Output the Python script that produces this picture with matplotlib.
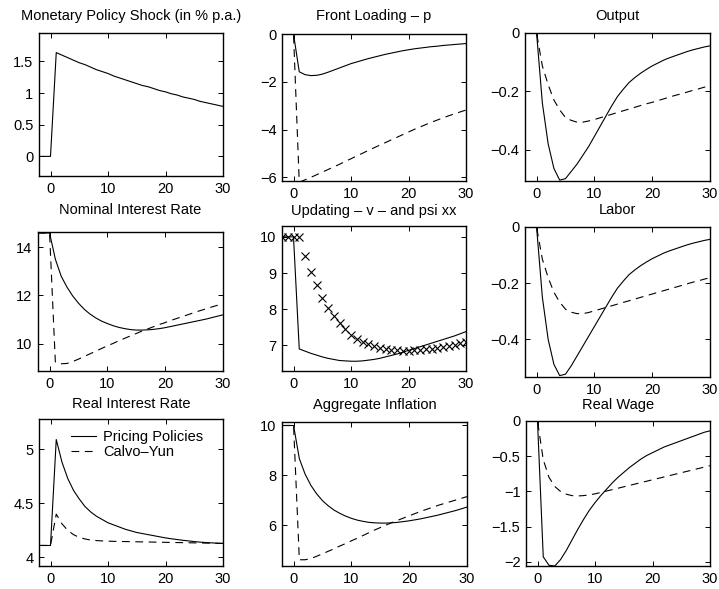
import matplotlib
matplotlib.use('Agg')
import matplotlib.pyplot as plt
from matplotlib.ticker import FuncFormatter

plt.rcParams['font.family'] = ['Liberation Sans', 'DejaVu Sans']
plt.rcParams['font.size'] = 10.5

# ---------------- data ----------------
t = list(range(-2, 31))

shock = [0, 0, 0, 1.64, 1.60, 1.56, 1.52, 1.48, 1.45, 1.41, 1.37, 1.34, 1.31, 1.27, 1.24,
         1.21, 1.18, 1.15, 1.12, 1.10, 1.07, 1.04, 1.02, 0.99, 0.97, 0.94, 0.92, 0.90,
         0.87, 0.85, 0.83, 0.81, 0.79]

p_pp = [0, 0, 0, -1.58, -1.70, -1.74, -1.73, -1.68, -1.60, -1.51, -1.42, -1.33, -1.24,
        -1.17, -1.10, -1.03, -0.97, -0.91, -0.85, -0.80, -0.75, -0.70, -0.66, -0.62,
        -0.59, -0.56, -0.53, -0.51, -0.48, -0.46, -0.44, -0.42, -0.40]
p_cy = [0, 0, 0, -6.20, -6.10, -6.00, -5.89, -5.78, -5.67, -5.56, -5.45, -5.33, -5.22,
        -5.10, -4.99, -4.87, -4.76, -4.65, -4.54, -4.43, -4.32, -4.21, -4.10, -3.99,
        -3.89, -3.79, -3.69, -3.60, -3.51, -3.42, -3.34, -3.26, -3.18]

y_pp = [0, 0, 0, -0.24, -0.38, -0.465, -0.505, -0.50, -0.475, -0.45, -0.42, -0.39,
        -0.355, -0.32, -0.285, -0.25, -0.218, -0.193, -0.17, -0.153, -0.138, -0.125,
        -0.113, -0.103, -0.093, -0.085, -0.078, -0.071, -0.064, -0.058, -0.053, -0.048,
        -0.044]
y_cy = [0, 0, 0, -0.113, -0.177, -0.23, -0.264, -0.29, -0.30, -0.306, -0.306, -0.302,
        -0.297, -0.291, -0.285, -0.279, -0.273, -0.267, -0.261, -0.255, -0.249, -0.243,
        -0.238, -0.232, -0.226, -0.220, -0.214, -0.209, -0.203, -0.197, -0.192, -0.186,
        -0.181]

i_pp = [14.58, 14.58, 14.58, 13.5, 12.8, 12.35, 11.98, 11.68, 11.43, 11.23, 11.07,
        10.94, 10.84, 10.75, 10.68, 10.63, 10.59, 10.57, 10.57, 10.58, 10.60, 10.63,
        10.67, 10.72, 10.77, 10.82, 10.87, 10.92, 10.97, 11.02, 11.08, 11.14, 11.20]
i_cy = [14.58, 14.58, 14.58, 9.25, 9.18, 9.19, 9.27, 9.37, 9.48, 9.59, 9.70, 9.81,
        9.92, 10.02, 10.13, 10.23, 10.33, 10.43, 10.53, 10.62, 10.71, 10.80, 10.88,
        10.97, 11.05, 11.13, 11.21, 11.29, 11.37, 11.44, 11.52, 11.59, 11.66]

v_pp = [10, 10, 10, 6.90, 6.84, 6.78, 6.73, 6.68, 6.64, 6.61, 6.58, 6.57, 6.56, 6.56,
        6.57, 6.59, 6.61, 6.64, 6.68, 6.72, 6.76, 6.81, 6.86, 6.91, 6.96, 7.01, 7.06,
        7.11, 7.16, 7.21, 7.26, 7.32, 7.38]
psi = [10, 10, 10, 10, 9.48, 9.03, 8.66, 8.32, 8.04, 7.80, 7.62, 7.44, 7.29, 7.18,
       7.10, 7.03, 6.97, 6.93, 6.90, 6.88, 6.86, 6.85, 6.85, 6.86, 6.87, 6.89, 6.91,
       6.93, 6.96, 6.99, 7.02, 7.06, 7.10]

n_pp = [0, 0, 0, -0.25, -0.40, -0.49, -0.53, -0.525, -0.495, -0.46, -0.425, -0.39,
        -0.355, -0.32, -0.285, -0.25, -0.218, -0.193, -0.17, -0.153, -0.138, -0.125,
        -0.113, -0.103, -0.093, -0.085, -0.078, -0.071, -0.064, -0.058, -0.053, -0.048,
        -0.044]
n_cy = [0, 0, 0, -0.115, -0.18, -0.233, -0.268, -0.293, -0.304, -0.309, -0.309, -0.305,
        -0.299, -0.293, -0.287, -0.281, -0.275, -0.269, -0.263, -0.257, -0.251, -0.245,
        -0.239, -0.233, -0.227, -0.221, -0.215, -0.209, -0.203, -0.197, -0.192, -0.186,
        -0.181]

r_pp = [4.11, 4.11, 4.11, 5.09, 4.88, 4.73, 4.62, 4.54, 4.47, 4.42, 4.38, 4.35, 4.32,
        4.30, 4.28, 4.26, 4.245, 4.23, 4.22, 4.21, 4.20, 4.19, 4.18, 4.172, 4.165,
        4.158, 4.152, 4.146, 4.141, 4.137, 4.134, 4.131, 4.129]
r_cy = [4.11, 4.11, 4.11, 4.40, 4.31, 4.25, 4.21, 4.185, 4.17, 4.16, 4.155, 4.152,
        4.15, 4.148, 4.147, 4.146, 4.145, 4.144, 4.143, 4.142, 4.141, 4.140, 4.139,
        4.138, 4.137, 4.136, 4.135, 4.134, 4.133, 4.132, 4.131, 4.130, 4.129]

pi_pp = [10, 10, 10, 8.67, 8.05, 7.60, 7.26, 6.99, 6.78, 6.61, 6.48, 6.37, 6.28, 6.21,
         6.16, 6.12, 6.10, 6.09, 6.09, 6.10, 6.12, 6.15, 6.18, 6.22, 6.26, 6.31, 6.36,
         6.41, 6.47, 6.53, 6.59, 6.66, 6.73]
pi_cy = [10, 10, 10, 4.62, 4.62, 4.67, 4.76, 4.86, 4.96, 5.06, 5.17, 5.27, 5.38, 5.48,
         5.59, 5.70, 5.81, 5.91, 6.01, 6.11, 6.20, 6.29, 6.38, 6.47, 6.56, 6.64, 6.72,
         6.80, 6.87, 6.94, 7.01, 7.08, 7.15]

w_pp = [0, 0, 0, -1.93, -2.05, -2.06, -1.97, -1.84, -1.69, -1.54, -1.40, -1.27, -1.16,
        -1.06, -0.97, -0.88, -0.80, -0.73, -0.66, -0.60, -0.54, -0.49, -0.45, -0.41,
        -0.37, -0.34, -0.31, -0.28, -0.25, -0.22, -0.19, -0.16, -0.14]
w_cy = [0, 0, 0, -0.55, -0.80, -0.93, -1.00, -1.04, -1.06, -1.065, -1.06, -1.05,
        -1.035, -1.015, -0.995, -0.975, -0.955, -0.935, -0.915, -0.895, -0.875, -0.855,
        -0.835, -0.815, -0.795, -0.775, -0.755, -0.735, -0.715, -0.695, -0.675, -0.655,
        -0.635]

titles = ["Monetary Policy Shock (in % p.a.)", "Front Loading \u2013 p", "Output",
          "Nominal Interest Rate", "Updating \u2013 v \u2013 and psi xx", "Labor",
          "Real Interest Rate", "Aggregate Inflation", "Real Wage"]
legend_labels = ["Pricing Policies", "Calvo\u2013Yun"]
xticks = [0, 10, 20, 30]

# ---------------- layout (pixels: left, top, right, bottom) ----------------
W, H = 719, 589
boxes = [(39, 33, 223, 176), (282, 34, 466, 181), (525, 33, 710, 181),
         (38, 232, 223, 371), (282, 226, 466, 371), (525, 227, 710, 377),
         (39, 419, 223, 566), (282, 422, 467, 566), (526, 421, 710, 566)]
title_y = [16, 16, 16, 210.5, 210.5, 210.5, 404.5, 404.5, 404.5]
ylims = [(-0.31, 1.95), (-6.15, 0), (-0.508, 0), (8.88, 14.62), (6.29, 10.3),
         (-0.535, 0), (3.92, 5.28), (4.37, 10.14), (-2.06, 0)]
yticks = [[0, 0.5, 1, 1.5], [-6, -4, -2, 0], [-0.4, -0.2, 0], [10, 12, 14],
          [7, 8, 9, 10], [-0.4, -0.2, 0], [4, 4.5, 5], [6, 8, 10],
          [-2, -1.5, -1, -0.5, 0]]
solid = [shock, p_pp, y_pp, i_pp, v_pp, n_pp, r_pp, pi_pp, w_pp]
dashed = [None, p_cy, y_cy, i_cy, None, n_cy, r_cy, pi_cy, w_cy]

fmt = FuncFormatter(lambda v, p: ('%g' % v).replace('-', '\u2212'))

fig = plt.figure(figsize=(W / 100, H / 100), dpi=100)
axes = []
for k in range(9):
    l, tp, r, b = boxes[k]
    ax = fig.add_axes([l / W, 1 - b / H, (r - l) / W, (b - tp) / H])
    axes.append(ax)
    ax.plot(t, solid[k], color='k', lw=0.8, label=legend_labels[0])
    if dashed[k] is not None:
        ax.plot(t, dashed[k], color='k', lw=0.8, ls=(0, (7, 5)), label=legend_labels[1])
    if k == 4:
        ax.plot(t, psi, ls='none', marker='x', ms=6, mew=0.8, color='k')
    ax.set_xlim(-2, 30)
    ax.set_ylim(*ylims[k])
    ax.set_xticks(xticks)
    ax.set_yticks(yticks[k])
    ax.xaxis.set_major_formatter(fmt)
    ax.yaxis.set_major_formatter(fmt)
    ax.tick_params(direction='in', length=3.5, width=0.7, top=True, right=True,
                   labelsize=10.5, pad=4)
    for s in ax.spines.values():
        s.set_linewidth(1.0)
    xc = (l + r) / 2 / W
    fig.text(xc, 1 - title_y[k] / H, titles[k], ha='center', va='center', fontsize=10.5)

axes[6].legend(loc='upper left', bbox_to_anchor=(0.175, 0.925), frameon=False,
               fontsize=10.5, handlelength=1.7, handletextpad=0.5, labelspacing=0.1,
               borderpad=0, borderaxespad=0)

fig.savefig('out.png', dpi=100)
